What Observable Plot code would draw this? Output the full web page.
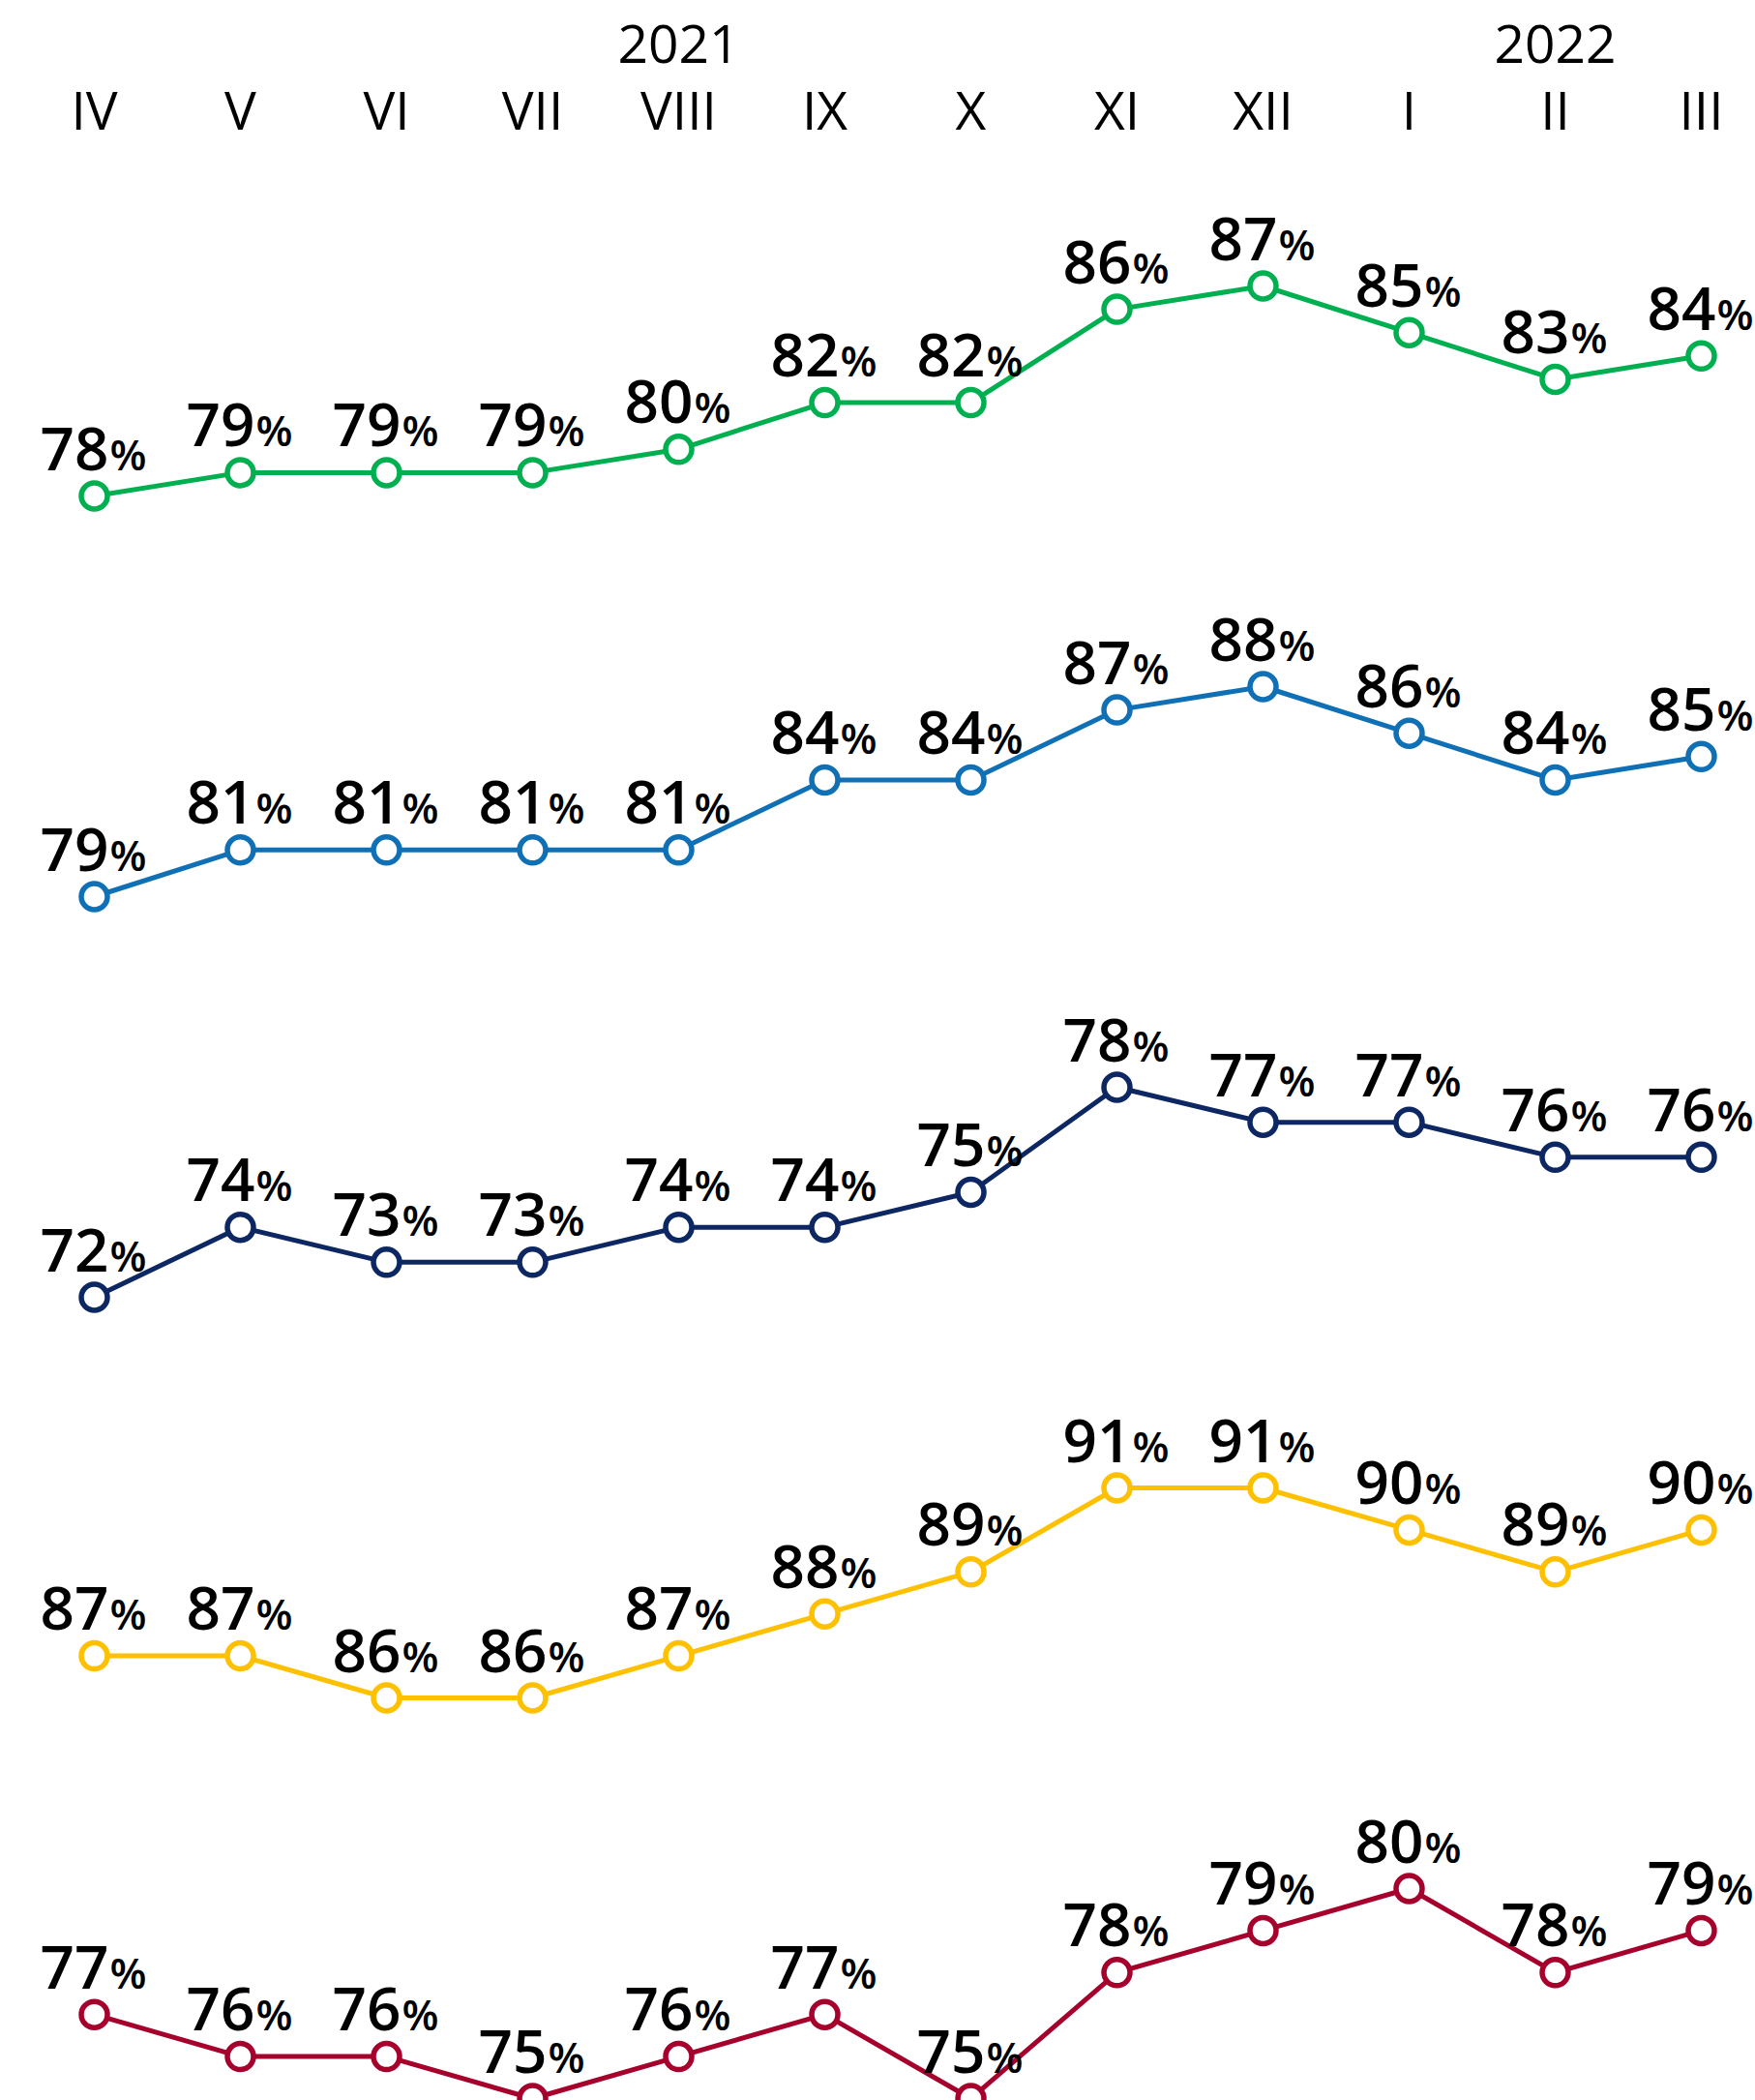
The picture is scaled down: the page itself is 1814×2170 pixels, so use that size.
<!DOCTYPE html>
<html>
<head>
<meta charset="utf-8">
<script src="https://cdn.jsdelivr.net/npm/d3@7"></script>
<script src="https://cdn.jsdelivr.net/npm/@observablehq/plot@0.6"></script>
<style>
  html, body { margin: 0; padding: 0; background: #ffffff; }
  #chart svg { display: block; overflow: visible; }
</style>
</head>
<body>
<div id="chart"></div>
<script>
// ---- data ----
const months = ["IV", "V", "VI", "VII", "VIII", "IX", "X", "XI", "XII", "I", "II", "III"];
const yearLabels = ["2021", "2022"];
const yearMonths = ["VIII", "II"];

const series1 = [78, 79, 79, 79, 80, 82, 82, 86, 87, 85, 83, 84];
const series2 = [79, 81, 81, 81, 81, 84, 84, 87, 88, 86, 84, 85];
const series3 = [72, 74, 73, 73, 74, 74, 75, 78, 77, 77, 76, 76];
const series4 = [87, 87, 86, 86, 87, 88, 89, 91, 91, 90, 89, 90];
const series5 = [77, 76, 76, 75, 76, 77, 75, 78, 79, 80, 78, 79];

const seriesValues = [series1, series2, series3, series4, series5];
const seriesColors = ["#00b050", "#1070b6", "#0c2762", "#ffc000", "#a6002c"];

// ---- layout ----
const W = 1814;
const font = "'Open Sans', 'Noto Sans', sans-serif";
const baseStyle = {fontFamily: font, color: "#000", background: "transparent", overflow: "visible"};
const xScale = {type: "point", domain: months, padding: 0};
const chart = document.getElementById("chart");

// header with month axis and year labels
const years = yearLabels.map((label, i) => ({label, month: yearMonths[i]}));
chart.appendChild(Plot.plot({
  width: W, height: 140,
  marginLeft: 95, marginRight: 54, marginTop: 136, marginBottom: 4,
  style: {...baseStyle, fontSize: "55px", fontWeight: 400},
  x: {...xScale, axis: "top", tickSize: 0, tickPadding: 3, label: null},
  marks: [
    Plot.text(years, {x: "month", text: "label", frameAnchor: "top", lineAnchor: "bottom", dy: -72, fontSize: 55, fill: "#000"})
  ]
}));

// one panel per series, each with its own y scale
seriesValues.forEach((vals, i) => {
  const rows = vals.map((value, j) => ({month: months[j], value}));
  const color = seriesColors[i];
  chart.appendChild(Plot.plot({
    width: W, height: 414,
    marginLeft: 95, marginRight: 54, marginTop: 155, marginBottom: 42,
    style: {...baseStyle, fontSize: "62px"},
    x: {...xScale, axis: null},
    y: {axis: null},
    marks: [
      Plot.line(rows, {x: "month", y: "value", stroke: color, strokeWidth: 5}),
      Plot.dot(rows, {x: "month", y: "value", r: 13.5, fill: "white", stroke: color, strokeWidth: 5.5}),
      Plot.text(rows, {x: "month", y: "value", text: d => String(d.value), textAnchor: "end", lineAnchor: "bottom", dx: 15, dy: -27, fontSize: 62, fontWeight: 550, fill: "#000"}),
      Plot.text(rows, {x: "month", y: "value", text: () => "%", textAnchor: "start", lineAnchor: "bottom", dx: 16, dy: -27, fontSize: 44, fontWeight: 550, fill: "#000"})
    ]
  }));
});
</script>
</body>
</html>
